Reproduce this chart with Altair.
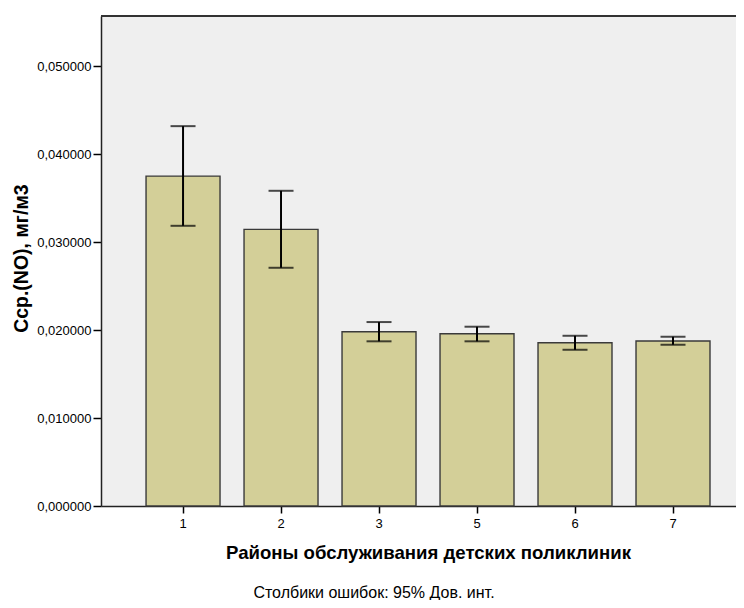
import altair as alt
import pandas as pd

districts = ["1", "2", "3", "5", "6", "7"]
means = [0.03750, 0.03144, 0.01981, 0.01958, 0.01856, 0.01875]
ci_low = [0.03185, 0.02708, 0.01872, 0.01872, 0.01776, 0.01833]
ci_high = [0.04318, 0.03583, 0.02091, 0.02038, 0.01935, 0.01924]
y_ticks = [0.0, 0.01, 0.02, 0.03, 0.04, 0.05]
footnote = ["Столбики ошибок: 95% Дов. инт."]

df = pd.DataFrame({"district": districts, "mean": means, "lo": ci_low, "hi": ci_high})
df_note = pd.DataFrame({"t": footnote})

W, H = 635, 490
FONT = "Liberation Sans"

xscale = alt.Scale(paddingInner=0.245, paddingOuter=0.3625, align=0.634)
yscale = alt.Scale(domain=[0, 0.0557], nice=False, zero=True)

x_enc = alt.X(
    "district:N", sort=None, scale=xscale,
    axis=alt.Axis(
        title="Районы обслуживания детских поликлиник",
        labelAngle=0, labelFontSize=13, labelFont=FONT, labelColor="#000",
        labelPadding=4, tickSize=7, tickColor="#000", tickWidth=1.5,
        domainColor="#222", domainWidth=1.5,
        titleFont=FONT, titleFontSize=18.6, titleFontWeight="bold", titleColor="#000",
        titleX=327, titleY=52, titleBaseline="alphabetic", titleAlign="center",
    ),
)
y_axis = alt.Axis(
    title="Сср.(NO), мг/м3", values=y_ticks,
    labelExpr="replace(format(datum.value, '.6f'), '.', ',')",
    labelFontSize=13, labelFont=FONT, labelColor="#000", labelPadding=2,
    tickSize=8, tickColor="#000", tickWidth=1.5,
    domainColor="#222", domainWidth=1.5, grid=False,
    titleFont=FONT, titleFontSize=19.5, titleFontWeight="bold", titleColor="#000",
    titleX=-74, titleY=242, titleBaseline="alphabetic", titleAngle=-90, titleAlign="center",
)

base = alt.Chart(df)

bars = base.mark_bar(color="#D3CF98", stroke="#3A3A3A", strokeWidth=1.4).encode(
    x=x_enc,
    y=alt.Y("mean:Q", scale=yscale, axis=y_axis),
)
whisk = base.mark_rule(color="#000", strokeWidth=2).encode(
    x=alt.X("district:N", sort=None), y="lo:Q", y2="hi:Q"
)
cap_hi = base.mark_tick(color="#000", size=25, thickness=2).encode(
    x=alt.X("district:N", sort=None), y="hi:Q"
)
cap_lo = base.mark_tick(color="#000", size=25, thickness=2).encode(
    x=alt.X("district:N", sort=None), y="lo:Q"
)
top_border = alt.Chart(df).mark_rule(color="#333333", strokeWidth=1.5).encode(
    x=alt.value(0), x2=alt.value(W), y=alt.value(0)
)
note = alt.Chart(df_note).mark_text(
    font=FONT, fontSize=16, color="#000", align="center", baseline="alphabetic"
).encode(text="t:N", x=alt.value(273), y=alt.value(582))

chart = alt.layer(bars, whisk, cap_hi, cap_lo, top_border, note).properties(
    width=W, height=H,
    autosize=alt.AutoSizeParams(type="none"),
    padding={"left": 93, "top": 8, "right": 0, "bottom": 94},
    background="white",
).configure_view(stroke=None, fill="#EFEFEF")

chart.save("out.html", embed_options={"renderer": "svg", "actions": False})
